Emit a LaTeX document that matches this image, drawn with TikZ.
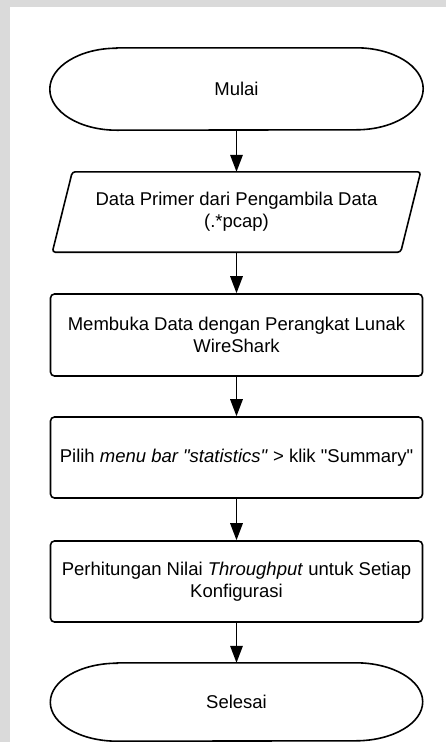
\documentclass[tikz,border=0pt]{standalone}
\usepackage{fontspec}
\setmainfont{Liberation Sans}
\usetikzlibrary{arrows.meta}
\definecolor{bggrey}{HTML}{DADADA}
\newcommand{\drawterm}[2]{%
  \draw[shapeline] ([xshift=67pt]#1.north west) -- ([xshift=-67pt]#1.north east)
    arc[start angle=90, end angle=-90, x radius=67pt, y radius=#2pt]
    -- ([xshift=67pt]#1.south west)
    arc[start angle=270, end angle=90, x radius=67pt, y radius=#2pt] -- cycle;}
\newcommand{\sq}{\textquotedbl}
\begin{document}
\begin{tikzpicture}[x=1pt,y=-1pt,
  shapeline/.style={draw=black, line width=1.6pt},
  txt/.style={font=\fontsize{18.5}{22}\selectfont, align=center, inner sep=0pt},
  boxnode/.style={txt, shapeline, rounded corners=4pt, minimum width=372pt},
  arr/.style={line width=1.6pt, -{Triangle[length=17pt,width=12.5pt]}}]
  \useasboundingbox (0,0) rectangle (446,742);
  \fill[bggrey] (0,0) rectangle (446,742);
  \fill[white] (10,7) rectangle (446,742);

  \node[txt, minimum width=373pt, minimum height=82pt] (mulai) at (236.5,89) {Mulai};
  \drawterm{mulai}{41}

  \node[txt, minimum width=348pt, minimum height=80pt] (data) at (236.5,212)
    {Data Primer dari Pengambila Data\\(.*pcap)};
  \draw[shapeline, rounded corners=3pt] ([xshift=10pt]data.north west) -- ([xshift=10pt]data.north east)
    -- ([xshift=-10pt]data.south east) -- ([xshift=-10pt]data.south west) -- cycle;

  \node[boxnode, minimum height=82pt] (buka) at (236.5,335)
    {Membuka Data dengan Perangkat Lunak\\WireShark};
  \node[boxnode, minimum height=81pt] (pilih) at (236.5,457.5)
    {Pilih \textit{menu bar \sq statistics\sq} > klik \sq Summary\sq};
  \node[boxnode, minimum height=81pt] (hitung) at (236.5,581.5)
    {Perhitungan Nilai \textit{Throughput} untuk Setiap\\Konfigurasi};

  \node[txt, minimum width=372pt, minimum height=78pt] (selesai) at (236.5,702) {Selesai};
  \drawterm{selesai}{39}

  \draw[arr] (mulai.south) -- (data.north);
  \draw[arr] (data.south) -- (buka.north);
  \draw[arr] (buka.south) -- (pilih.north);
  \draw[arr] (pilih.south) -- (hitung.north);
  \draw[arr] (hitung.south) -- (selesai.north);
\end{tikzpicture}
\end{document}
